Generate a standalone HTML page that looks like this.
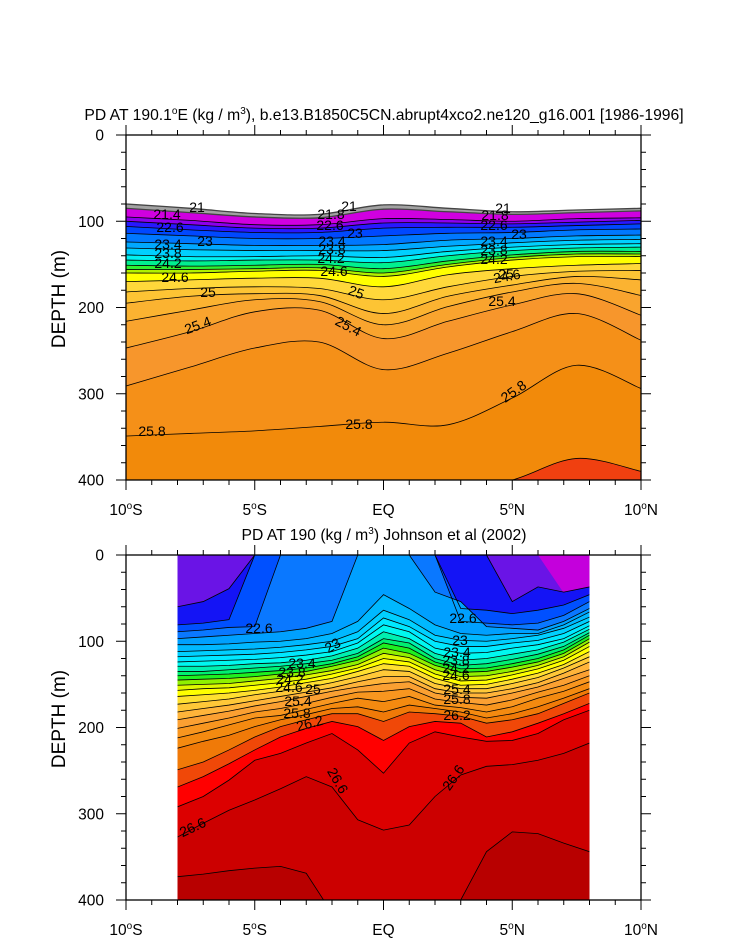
<!DOCTYPE html>
<html><head><meta charset="utf-8">
<style>
html,body{margin:0;padding:0;background:#fff;}
svg{display:block;font-family:"Liberation Sans",sans-serif;}
</style></head>
<body>
<svg id="chart" width="733" height="945" viewBox="0 0 733 945" xmlns="http://www.w3.org/2000/svg">
<defs>
<clipPath id="clipTop"><rect x="126" y="135" width="515" height="345"/></clipPath>
<clipPath id="clipBot"><rect x="177.5" y="555" width="412" height="345"/></clipPath>
</defs>
<g id="topFills" clip-path="url(#clipTop)"></g>
<g id="botFills" clip-path="url(#clipBot)"></g>
<g id="axes"></g>
<g id="labels" font-size="14" fill="#000"></g>
<text x="384" y="120" font-size="15.7" text-anchor="middle">PD AT 190.1<tspan font-size="10" dy="-6">o</tspan><tspan dy="6">E (kg / m</tspan><tspan font-size="10" dy="-6">3</tspan><tspan dy="6">), b.e13.B1850C5CN.abrupt4xco2.ne120_g16.001 [1986-1996]</tspan></text>
<text x="384" y="540" font-size="15.7" text-anchor="middle">PD AT 190 (kg / m<tspan font-size="10" dy="-6">3</tspan><tspan dy="6">) Johnson et al (2002)</tspan></text>
<text transform="translate(65,299) rotate(-90)" font-size="19" text-anchor="middle">DEPTH (m)</text>
<text transform="translate(65,719) rotate(-90)" font-size="19" text-anchor="middle">DEPTH (m)</text>
</svg>
<script>
// ---------- TOP PANEL DATA (depth in m of contours at each latitude) ----------
const topLats = [-10,-7.5,-5,-2.5,0,2.5,5,7.5,10];
const tD210 = [80,85,91,92,81,85,89,87,85];
const tD212 = [85,90,95,96,86,89,92,90,88];
const tD216 = [95,99,104,104,97,98,100,97,96];
const tD220 = [100,104,108,108,102,102,103,101,99];
const tD224 = [106,110,113,113,108,107,107,105,103];
const tD228 = [114,117,120,120,117,114,113,110,109];
const tD230 = [124,126,128,128,127,122,120,117,116];
const tD234 = [131,133,134,134,134,129,125,122,121];
const tD238 = [139,141,141,140,142,135,130,127,126];
const tD240 = [145,146,145,145,148,140,134,131,130];
const tD242 = [151,152,151,150,155,146,139,135,135];
const tD244 = [156,156,155,154,160,150,142,138,138];
const tD246 = [160,160,158,157,164,153,145,141,141];
const tD248 = [170,168,166,166,176,162,155,151,149];
const tD250 = [182,178,176,178,191,176,164,158,157];
const tD252 = [195,187,184,186,207,187,174,164,168];
const tD253 = [216,203,191,193,220,199,182,172,186];
const tD254 = [247,228,205,203,236,216,197,184,209];
const tD256 = [291,269,247,240,272,253,228,207,238];
const tD258 = [349,346,343,338,333,336,305,267,294];
const tD260 = [415,415,415,415,415,415,400,375,390];
const topSeries = [tD210,tD212,tD216,tD220,tD224,tD228,tD230,tD234,tD238,tD240,tD242,tD244,tD246,tD248,tD250,tD252,tD253,tD254,tD256,tD258,tD260];
const topColors = ["#a2a2a2","#d000e0","#8c00ec","#2818ff","#0048ff","#0078ff","#00a8ff","#00d0ff","#00f0f0","#00f090","#30f030","#b0f000","#ffff00","#ffd83a","#fdc434","#fbb331","#f9a42e","#f7962c","#f59018","#f28a0a","#f04010"];

// ---------- BOTTOM PANEL DATA ----------
const botLats = [-8,-7,-6,-5,-4,-3,-2,-1,0,1,2,3,4,5,6,7,8];
const bMag  = [0,0,0,0,0,0,0,0,0,0,0,0,0,0,0,44,37];
const bP    = [60,54,39,0,0,0,0,0,0,0,0,0,0,54,37,43,37];
const bL2   = [81,79,75,0,0,0,0,0,0,0,0,62,64,68,64,58,46];
const bL3   = [89,87,84,83,0,0,0,0,0,0,0,77,79,81,79,70,54];
const bL4   = [97,95,93,91,89,85,77,0,0,0,43,54,83,85,87,77,62];
const b228  = [104,104,103,101,100,97,91,77,46,62,81,91,93,91,91,81,66];
const b230  = [112,111,110,109,107,104,100,89,64,75,93,99,100,97,93,85,72];
const b232  = [118,117,116,115,113,110,106,97,73,83,100,106,106,102,99,91,77];
const b234  = [124,123,122,121,119,116,112,102,81,89,108,114,113,108,104,97,82];
const b236  = [129,129,128,126,125,122,117,108,89,97,114,122,120,115,110,101,86];
const b238  = [135,135,133,131,129,126,122,114,97,102,120,128,126,121,115,106,90];
const b240  = [140,139,138,136,134,131,126,118,102,108,124,132,131,126,120,110,93];
const b242  = [145,144,143,141,138,135,129,122,108,114,128,136,135,130,124,114,97];
const b244  = [151,150,149,146,143,139,134,127,114,119,133,141,140,135,128,118,101];
const b246  = [157,155,154,151,148,144,138,131,120,124,138,146,145,139,132,122,106];
const b248  = [164,162,160,157,153,148,143,135,126,129,143,151,150,144,137,127,112];
const b250  = [173,170,167,162,158,154,148,141,133,135,149,155,155,149,142,131,118];
const b252  = [182,178,174,169,164,159,154,147,141,141,155,160,160,155,148,137,124];
const b254  = [191,186,181,175,170,164,158,153,149,147,160,165,166,160,153,143,133];
const b256  = [201,195,189,182,178,172,165,159,158,155,167,171,174,168,159,151,140];
const b258  = [212,205,197,189,186,179,172,166,170,164,174,177,182,176,166,158,147];
const b260  = [224,216,209,199,191,185,178,176,182,174,178,182,189,184,176,166,155];
const b261  = [249,240,226,211,199,191,184,184,193,182,184,187,195,191,184,172,160];
const b262  = [269,257,242,226,211,201,193,199,215,199,193,195,211,205,195,184,172];
const b264  = [292,280,261,238,230,218,207,226,253,218,205,211,216,215,207,191,180];
const b266  = [327,311,296,284,271,257,269,307,319,313,280,255,245,243,238,230,218];
const b268  = [373,370,366,363,361,369,415,415,415,415,415,400,344,321,323,334,344];
const botSeries = [bP,bL2,bL3,bL4,b228,b230,b232,b234,b236,b238,b240,b242,b244,b246,b248,b250,b252,b254,b256,b258,b260,b261,b262,b264,b266,b268];
const botColors = ["#1414f5","#0050ff","#0a78ff","#00a0ff","#00b8ff","#00d0ff","#00e8ff","#00f8f0","#00f0b0","#00f070","#20f020","#90f000","#e0f800","#ffff00","#ffe030","#ffc838","#ffb43a","#fba032","#f8961f","#f48a10","#f07a08","#f04808","#ff0000","#dc0000","#cc0000","#b80000"];

// ---------- tick data ----------
const depthTicks = [0,100,200,300,400];
const latTicks = [-10,-5,0,5,10];
const latTickLabels = ["10°S","5°S","EQ","5°N","10°N"];

// ---------- scales ----------
const PX = 126, PW = 515, PH = 345;
function xS(lat){ return PX + (lat + 10) / 20 * PW; }
function yTop(d){ return 135 + d / 400 * PH; }
function yBot(d){ return 555 + d / 400 * PH; }
const NS = "http://www.w3.org/2000/svg";
function mk(tag, attrs){ const e = document.createElementNS(NS, tag); for (const k in attrs) e.setAttribute(k, attrs[k]); return e; }

function smoothPath(pts){
  let d = "M" + pts[0][0] + "," + pts[0][1];
  for (let i = 0; i < pts.length - 1; i++){
    const p0 = pts[Math.max(0,i-1)], p1 = pts[i], p2 = pts[i+1], p3 = pts[Math.min(pts.length-1,i+2)];
    const c1x = p1[0] + (p2[0]-p0[0])/6, c1y = p1[1] + (p2[1]-p0[1])/6;
    const c2x = p2[0] - (p3[0]-p1[0])/6, c2y = p2[1] - (p3[1]-p1[1])/6;
    d += " C" + c1x + "," + c1y + " " + c2x + "," + c2y + " " + p2[0] + "," + p2[1];
  }
  return d;
}
function linePath(pts){ return "M" + pts.map(p => p[0] + "," + p[1]).join(" L"); }

// ---------- top panel ----------
const topG = document.getElementById("topFills");
topSeries.forEach((arr, i) => {
  const pts = arr.map((d, j) => [xS(topLats[j]), yTop(d)]);
  const dl = smoothPath(pts);
  const fill = mk("path", {d: dl + " L" + xS(10) + ",490 L" + xS(-10) + ",490 Z", fill: topColors[i], stroke: "none"});
  
  
  topG.appendChild(fill);
});
topSeries.forEach((arr, i) => {
  const pts = arr.map((d, j) => [xS(topLats[j]), yTop(d)]);
  const ln = mk("path", {d: smoothPath(pts), fill: "none", stroke: i < 2 ? "#444" : "#000", "stroke-width": i < 2 ? 1.3 : 0.8});
  
  
  topG.appendChild(ln);
});

// ---------- bottom panel ----------
const botG = document.getElementById("botFills");
const base = mk("rect", {x: 177.5, y: 555, width: 412, height: 345, fill: "#6a14e6"});


botG.appendChild(base);
{
  const pts = bMag.map((d, j) => [xS(botLats[j]), yBot(d)]);
  const mg = mk("path", {d: linePath(pts) + " L" + xS(8) + ",555 L" + xS(-8) + ",555 Z", fill: "#c400dc"});
  
  
  botG.appendChild(mg);
}
botSeries.forEach((arr, i) => {
  const pts = arr.map((d, j) => [xS(botLats[j]), yBot(d)]);
  const f = mk("path", {d: linePath(pts) + " L" + xS(8) + ",910 L" + xS(-8) + ",910 Z", fill: botColors[i]});
  
  
  botG.appendChild(f);
});
botSeries.forEach((arr, i) => {
  const pts = arr.map((d, j) => [xS(botLats[j]), yBot(d)]);
  const l = mk("path", {d: linePath(pts), fill: "none", stroke: "#000", "stroke-width": 0.8});
  
  
  botG.appendChild(l);
});

// ---------- axes ----------
const ax = document.getElementById("axes");
[[135, yTop, 'top'], [555, yBot, 'bottom']].forEach(([top, ys, nm]) => {
  const fr = mk("rect", {x: PX, y: top, width: PW, height: PH, fill: "none", stroke: "#000", "stroke-width": 1.3});
  
  
  ax.appendChild(fr);
  const bot = top + PH;
  for (let d = 0; d <= 400; d += 20){
    const y = ys(d), big = d % 100 === 0;
    const len = big ? 10 : 5;
    const t1 = mk("line", {x1: PX - len, y1: y, x2: PX, y2: y, stroke: "#000", "stroke-width": 1});
    
    
    ax.appendChild(t1);
    const t2 = mk("line", {x1: PX + PW, y1: y, x2: PX + PW + len, y2: y, stroke: "#000", "stroke-width": 1});
    
    
    ax.appendChild(t2);
  }
  depthTicks.forEach(d => {
    const t = mk("text", {x: 104, y: ys(d) + 5.5, "font-size": 15.5, "text-anchor": "end"});
    t.textContent = d;
    
    
    ax.appendChild(t);
  });
  for (let lat = -10; lat <= 10; lat += 1){
    const x = xS(lat), big = lat % 5 === 0;
    const len = big ? 10 : 5;
    const a = mk("line", {x1: x, y1: bot, x2: x, y2: bot + len, stroke: "#000", "stroke-width": 1});
    
    
    ax.appendChild(a);
    const b = mk("line", {x1: x, y1: top - len, x2: x, y2: top, stroke: "#000", "stroke-width": 1});
    
    
    ax.appendChild(b);
  }
  latTicks.forEach((lat, i) => {
    const lbl = latTickLabels[i];
    const t = mk("text", {x: xS(lat), y: bot + 35, "font-size": 15.5, "text-anchor": "middle"});
    if (lbl.indexOf("°") >= 0){
      const parts = lbl.split("°");
      t.appendChild(document.createTextNode(parts[0]));
      const s = mk("tspan", {"font-size": 10, dy: -6}); s.textContent = "o"; t.appendChild(s);
      const r = mk("tspan", {dy: 6}); r.textContent = parts[1]; t.appendChild(r);
    } else t.textContent = lbl;
    
    
    ax.appendChild(t);
  });
});

// ---------- contour labels ----------
const labTexts = ["21","21.4","22.6","23","23.4","23.8","24.2","24.6","25","25.4","25.8",
  "21","21.8","22.6","23","23.4","23.8","24.2","24.6","25","25.4","25.8",
  "21","21.8","22.6","23","23.4","23.8","24.2","24.6","25","25.4","25.8",
  "22.6","23","23.4","23.8","24.2","24.6","25","25.4","25.8","26.2","26.6","26.6",
  "22.6","23","23.4","23.8","24.2","24.6","25.4","25.8","26.2","26.6"];
const labPos = [[197,212,0],[167,219,0],[170,232,0],[205,246,0],[168,249,0],[168,258,0],[168,268,0],[175,282,0],[208,297,0],[198,330,-20],[152,436,0],
  [349,211,0],[331,219,0],[330,230,0],[355,238,0],[332,246,0],[332,254,0],[331,263,0],[334,276,0],[356,297,20],[348,331,28],[359,429,0],
  [503,213,0],[495,220,0],[494,230,0],[519,239,0],[494,246,0],[494,255,0],[494,264,0],[507,281,-10],[506,279,0],[502,306,0],[514,396,-35],
  [259,633,0],[333,650,-30],[302,668,0],[292,677,0],[290,684,0],[289,692,0],[313,694,0],[298,706,0],[297,718,0],[310,728,-15],[337,785,60],[193,832,-25],
  [463,623,0],[460,645,0],[457,657,0],[456,665,0],[456,673,0],[456,680,0],[457,694,0],[457,704,0],[457,720,0],[454,782,-55]];
const lg = document.getElementById("labels");
labTexts.forEach((s, i) => {
  const p = labPos[i];
  const t = mk("text", {x: p[0], y: p[1], "text-anchor": "middle", transform: "rotate(" + p[2] + " " + p[0] + " " + (p[1]-4) + ")"});
  t.textContent = s;
  
  
  lg.appendChild(t);
});
</script>
</body></html>
